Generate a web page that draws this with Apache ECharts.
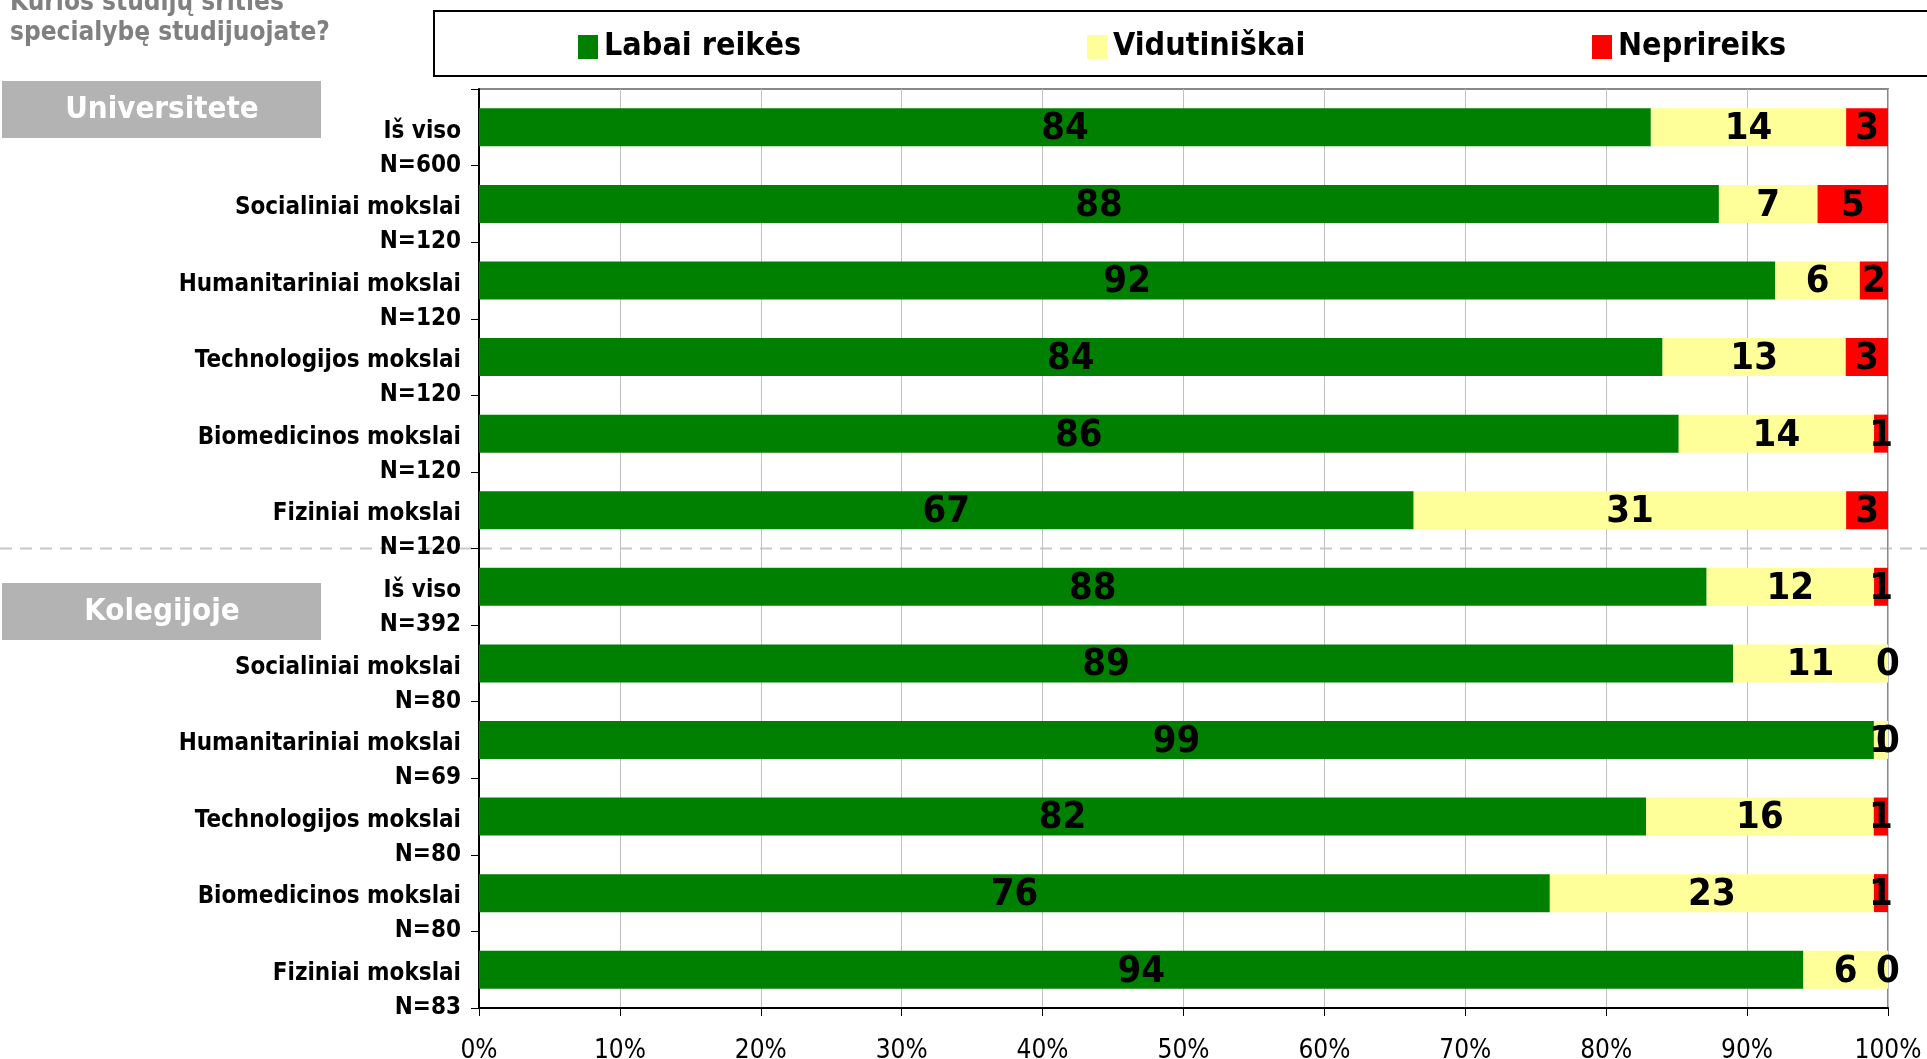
<!DOCTYPE html>
<html>
<head>
<meta charset="utf-8">
<script src="https://cdn.jsdelivr.net/npm/echarts@6/dist/echarts.min.js"></script>
<style>
  html, body { margin: 0; padding: 0; background: #fff; }
  #chart { width: 1927px; height: 1059px; }
</style>
</head>
<body>
<div id="chart"></div>
<script>
// kategorijos (iš viršaus į apačią)
var categories = [
  'Iš viso', 'Socialiniai mokslai', 'Humanitariniai mokslai', 'Technologijos mokslai', 'Biomedicinos mokslai', 'Fiziniai mokslai',
  'Iš viso', 'Socialiniai mokslai', 'Humanitariniai mokslai', 'Technologijos mokslai', 'Biomedicinos mokslai', 'Fiziniai mokslai'
];
var sampleSizes = ['N=600', 'N=120', 'N=120', 'N=120', 'N=120', 'N=120', 'N=392', 'N=80', 'N=69', 'N=80', 'N=80', 'N=83'];

var seriesNames = ['Labai reikės', 'Vidutiniškai', 'Neprireiks'];
var labai = [84, 88, 92, 84, 86, 67, 88, 89, 99, 82, 76, 94];
var vidutiniskai = [14, 7, 6, 13, 14, 31, 12, 11, 1, 16, 23, 6];
var neprireiks = [3, 5, 2, 3, 1, 3, 1, 0, 0, 1, 1, 0];

var xTicks = ['0%', '10%', '20%', '30%', '40%', '50%', '60%', '70%', '80%', '90%', '100%'];
var sections = ['Universitete', 'Kolegijoje'];
var question = 'Kurios studijų srities\nspecialybę studijuojate?';

var colors = ['#008000', '#ffff99', '#ff0000'];
var raw = [labai, vidutiniskai, neprireiks];

// 100% stacked, kaip Excel'yje: dalis nuo eilutės sumos
var totals = labai.map(function (v, i) { return v + vidutiniskai[i] + neprireiks[i]; });

var chart = echarts.init(document.getElementById('chart'), null, { renderer: 'canvas' });

var GRID_L = 479, GRID_R = 39, GRID_T = 89, GRID_B = 51;
var condFont = '"DejaVu Sans Condensed", "DejaVu Sans", sans-serif';

var series = raw.map(function (arr, k) {
  return {
    name: seriesNames[k],
    type: 'bar',
    stack: 'total',
    barWidth: 38,
    itemStyle: { color: colors[k] },
    label: {
      show: true,
      position: 'inside',
      offset: [0, 2],
      color: '#000',
      fontFamily: condFont,
      fontWeight: 'bold',
      fontSize: 38,
      formatter: function (p) { return arr[p.dataIndex]; }
    },
    emphasis: { disabled: true },
    data: arr.map(function (v, i) { return v / totals[i] * 100; })
  };
});

var legendX = [573, 1082, 1587];
var legends = seriesNames.map(function (n, k) {
  return {
    data: [n],
    left: legendX[k],
    top: 26,
    icon: 'rect',
    itemWidth: 20,
    itemHeight: 24,
    itemGap: 0,
    selectedMode: false,
    textStyle: { color: '#000', fontFamily: condFont, fontWeight: 'bold', fontSize: 32, padding: [0, 0, 0, 1] }
  };
});

var plotH = 1059 - GRID_T - GRID_B;
var sepY = GRID_T + plotH / 2;

chart.setOption({
  animation: false,
  color: colors,
  legend: legends,
  grid: {
    left: GRID_L, right: GRID_R, top: GRID_T, bottom: GRID_B,
    outerBoundsMode: 'none',
    show: true, borderColor: '#888', borderWidth: 2
  },
  xAxis: {
    type: 'value',
    min: 0,
    max: 100,
    interval: 10,
    axisLine: { show: true, lineStyle: { color: '#000', width: 2 } },
    axisTick: { show: true, length: 8, lineStyle: { color: '#000' } },
    splitLine: { show: true, lineStyle: { color: '#c0c0c0', width: 1 } },
    axisLabel: {
      margin: 30,
      color: '#000',
      fontFamily: condFont,
      fontSize: 26,
      formatter: function (v) { return xTicks[Math.round(v / 10)]; }
    }
  },
  yAxis: {
    type: 'category',
    inverse: true,
    data: categories,
    axisLine: { show: true, lineStyle: { color: '#000', width: 2 } },
    axisTick: { show: true, length: 8, lineStyle: { color: '#000' } },
    axisLabel: {
      interval: 0,
      showMinLabel: true,
      showMaxLabel: true,
      hideOverlap: false,
      margin: 18,
      color: '#000',
      fontFamily: condFont,
      fontWeight: 'bold',
      fontSize: 24,
      // tuščia pirma eilutė: pavadinimas lieka ties juostos centru, N= po juo
      formatter: function (v, i) { return '{g| }\n{t|' + v + '}\n{t|' + sampleSizes[i] + '}'; },
      rich: {
        g: { lineHeight: 42, fontSize: 10 },
        t: { lineHeight: 34, fontSize: 24, fontWeight: 'bold', fontFamily: condFont, color: '#000' }
      }
    }
  },
  series: series,
  graphic: [
    {
      type: 'rect', z: 0,
      shape: { x: 434, y: 11, width: 1510, height: 65 },
      style: { fill: '#fff', stroke: '#000', lineWidth: 2 }
    },
    {
      type: 'text', left: 10, top: -12,
      style: { text: question, fill: '#808080', font: 'bold 26px ' + condFont, lineHeight: 30 }
    },
    {
      type: 'group', left: 2, top: 81,
      children: [
        { type: 'rect', shape: { x: 0, y: 0, width: 319, height: 57 }, style: { fill: '#b3b3b3' } },
        { type: 'text', x: 160, y: 29, style: { text: sections[0], fill: '#fff', font: 'bold 31px ' + condFont, align: 'center', verticalAlign: 'middle' } }
      ]
    },
    {
      type: 'group', left: 2, top: 583,
      children: [
        { type: 'rect', shape: { x: 0, y: 0, width: 319, height: 57 }, style: { fill: '#b3b3b3' } },
        { type: 'text', x: 160, y: 29, style: { text: sections[1], fill: '#fff', font: 'bold 31px ' + condFont, align: 'center', verticalAlign: 'middle' } }
      ]
    },
    {
      // brūkšninė skiriamoji linija po tekstu
      type: 'line', z: -1,
      shape: { x1: 0, y1: sepY, x2: 1927, y2: sepY },
      style: { stroke: '#c8c8c8', lineWidth: 2, lineDash: [12, 8] }
    }
  ]
});
</script>
</body>
</html>
